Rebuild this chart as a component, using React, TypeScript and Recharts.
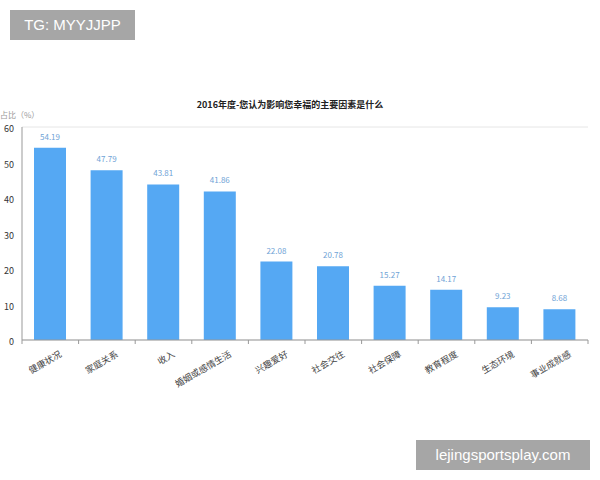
import { BarChart, Bar, XAxis, YAxis, CartesianGrid, LabelList } from "recharts";

const CATEGORIES = ["健康状况", "家庭关系", "收入", "婚姻或感情生活", "兴趣爱好", "社会交往", "社会保障", "教育程度", "生态环境", "事业成就感"];
const SHARES = [54.19, 47.79, 43.81, 41.86, 22.08, 20.78, 15.27, 14.17, 9.23, 8.68];
const Y_TICKS = [0, 10, 20, 30, 40, 50, 60];

const data = CATEGORIES.map((name, i) => ({ name, share: SHARES[i] }));

const FONT = "'Noto Sans CJK SC', 'Noto Sans', sans-serif";
const BAND = 56.6;

function CategoryTick(props: any) {
  const { x, y, payload, index } = props;
  const last = index === CATEGORIES.length - 1;
  return (
    <g>
      <line x1={x - BAND / 2} x2={x - BAND / 2} y1={y - 8} y2={y - 4} stroke="#999" />
      {last && <line x1={x + BAND / 2} x2={x + BAND / 2} y1={y - 8} y2={y - 4} stroke="#999" />}
      <text
        x={x + 12}
        y={y + 8}
        textAnchor="end"
        fontSize={9}
        fill="#444"
        fontFamily={FONT}
        transform={`rotate(-30 ${x + 12} ${y + 8})`}
      >
        {payload.value}
      </text>
    </g>
  );
}

export default function App() {
  return (
    <div style={{ position: "absolute", left: 0, top: 0, width: 600, height: 480, background: "#fff", fontFamily: FONT }}>
      <div style={{ position: "absolute", left: 10, top: 10, width: 125, height: 30, background: "#a6a6a6", color: "#fff", fontSize: 15, lineHeight: "30px", textAlign: "center", fontFamily: "'Liberation Sans', Arial, sans-serif" }}>
        TG: MYYJJPP
      </div>
      <div style={{ position: "absolute", left: 416, top: 440, width: 174, height: 30, background: "#a6a6a6", color: "#fff", fontSize: 15, lineHeight: "30px", textAlign: "center", fontFamily: "'Liberation Sans', Arial, sans-serif" }}>
        lejingsportsplay.com
      </div>
      <div style={{ position: "absolute", left: 0, width: 580, top: 98, textAlign: "center", fontSize: 9, fontWeight: "bold", color: "#222" }}>
        2016年度-您认为影响您幸福的主要因素是什么
      </div>
      <div style={{ position: "absolute", left: 0, top: 110, fontSize: 8, lineHeight: "10px", color: "#999" }}>占比（%）</div>
      <BarChart width={600} height={480} data={data} margin={{ top: 127, right: 12, bottom: 100, left: 0 }}>
        <CartesianGrid vertical={false} stroke="#e6e6e6" />
        <XAxis dataKey="name" interval={0} tickLine={false} axisLine={{ stroke: "#999" }} tick={<CategoryTick />} height={40} />
        <YAxis
          yAxisId="left"
          domain={[0, 60]}
          ticks={Y_TICKS}
          width={22}
          tickLine={false}
          axisLine={{ stroke: "#999" }}
          tick={{ fontSize: 9, fill: "#333", fontFamily: FONT, dy: 2 }}
        />
        <YAxis yAxisId="right" orientation="right" domain={[0, 60]} width={0} tick={false} tickLine={false} axisLine={{ stroke: "#ddd" }} />
        <Bar yAxisId="left" dataKey="share" fill="#55a8f3" barSize={32} isAnimationActive={false}>
          <LabelList dataKey="share" position="top" offset={8} fontSize={8} fill="#6fa3d6" fontFamily={FONT} formatter={(v: any) => Number(v).toFixed(2)} />
        </Bar>
      </BarChart>
    </div>
  );
}
